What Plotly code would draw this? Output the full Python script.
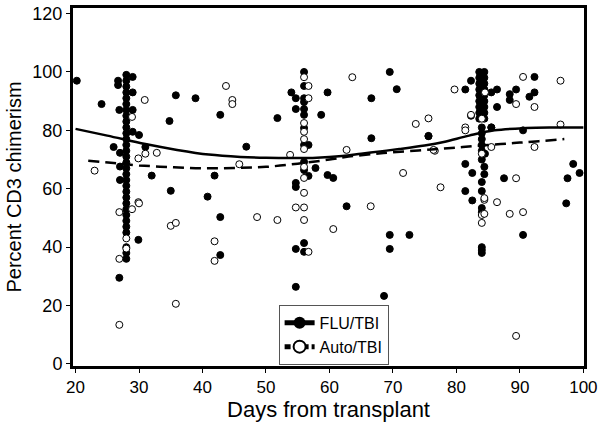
import plotly.graph_objects as go

# FLU/TBI (filled) points
flu_days = [28]*31 + [
    20.2, 24.1, 26.7, 26.7, 26.9, 29, 29, 29, 29, 30, 31, 26, 27, 27, 27, 32,
    35.8, 38.9, 42.8, 34.8, 46.9, 41.9, 35, 40.8, 42.8, 29.9, 42.8, 26.9,
    56, 56, 54, 54.7, 56, 56, 54.7, 56, 56, 51.8, 58.7, 59.7, 56, 56, 56.7, 56, 56,
    57.8, 56.7, 54.7, 54.7, 59.7, 60.6, 62.7, 56, 54.7, 56, 54.7, 56,
    66.6, 66.6, 69.5, 70.6, 75.6, 69.5, 72.6, 69.5, 68.6,
] + [83.6]*9 + [84.4]*9 + [
    84, 84, 84, 84, 84, 84, 84.4, 82.5, 84.4, 84, 84, 81.4, 82.5, 84, 84, 84, 84, 84,
    81.4, 82.3, 85.5, 86.4, 88.4, 88.4, 89.4, 92.3, 92.3, 86.4, 90.5, 75.6, 85.5,
    81.4, 98.4, 99.4, 87.5, 97.5, 97.3, 90.5, 91.5, 82.3, 84.5, 85.5,
]
flu_vals = [99, 97, 95, 93, 91, 89, 87, 85, 83, 81, 79, 77, 75, 73, 71, 69, 67, 65,
            63, 61, 59, 57, 55, 53, 51, 49, 47, 45, 40, 38, 36] + [
    97, 89, 97, 95.5, 87, 98.3, 93, 87, 79.5, 78.4, 74.3, 74.3, 72.3, 67.6, 63, 64.5,
    92, 91, 85.3, 83.2, 74.4, 64.5, 59.3, 57.3, 50.3, 42.5, 37.3, 29.5,
    100, 95.2, 93, 91, 91, 89.7, 87.3, 87.3, 85.3, 84.2, 85.3, 93, 80.8, 75, 75, 69.2, 66.4,
    67.1, 64.4, 62, 60.6, 64.7, 63.7, 54, 41.4, 39.4, 38.4, 26.4, 16.4,
    91, 77.3, 100, 94.1, 78.1, 44.2, 44.2, 39.4, 23.3,
] + [100, 98, 96, 94, 92, 90, 88, 86, 84] + [100, 98, 96, 94, 92, 90, 88, 86, 84] + [
    81, 79, 77, 75, 73, 70, 67.5, 65.4, 65, 62.3, 59.2, 59.2, 56, 53.4, 52, 40, 39, 38,
    94, 97, 93, 94, 92.4, 90.4, 94, 98.3, 93, 88, 80, 78, 81,
    68.5, 68.5, 65.4, 63.6, 63.6, 55, 44.2, 91.5, 85, 72, 81,
]

# Auto/TBI (open) points
auto_days = [
    23, 28.9, 30.9, 43.7, 44.7, 44.7, 31, 32.8, 29.9, 45.8, 29.9, 28.9, 26.9, 48.6,
    35, 35.8, 41.9, 28, 28, 26.9, 41.9, 35.8, 26.9, 30,
    56, 56.7, 56.7, 56, 56, 56, 56, 53.8, 62.7, 56, 56, 56, 63.6, 73.6, 75.6, 76.6,
    71.6, 66.5, 54.7, 56, 51.8, 56, 60.6, 56.7,
    79.7, 89.4, 90.5, 92.3, 96.4, 82.3, 81.4, 81.4, 96.4, 85.5, 76.4, 92.3, 84, 89.4,
    77.5, 84.4, 86.4, 84, 84.4, 84, 88.4, 90.5, 89.4, 84.5, 84, 84.4,
]
auto_vals = [
    66.2, 84.6, 90.4, 95.2, 90.4, 89, 72, 72.3, 70.4, 68.4, 55.4, 53, 52, 50.3,
    47.3, 48.3, 42, 43, 39.5, 36, 35.3, 20.6, 13.4, 55,
    98.2, 95.2, 91, 82.5, 79.5, 77, 73.6, 71.6, 73.3, 67.5, 63.7, 58.6, 98.2, 82.2, 84.1, 73,
    65.4, 54, 53.6, 53.6, 49.3, 49.3, 46.2, 38.4,
    94, 89, 98.3, 88, 97, 85.3, 81, 80, 82, 74.3, 73.3, 74.3, 72, 63.6,
    60.5, 56.2, 55.4, 51, 51.4, 48.3, 51.4, 52, 9.6, 93, 84, 56.8,
]

# Fitted trend curves
flu_fit_days = [20, 25, 31, 36, 41, 46, 50, 54, 58, 62, 65, 68, 71, 75, 78, 82, 86, 91, 95, 100]
flu_fit_vals = [80.5, 78.2, 75.3, 73.3, 71.7, 70.9, 70.6, 70.5, 70.6, 71.2, 72.0, 72.8, 73.6, 74.8,
                76.0, 78.2, 80.0, 80.8, 81.0, 81.0]
auto_fit_days = [22, 26, 30, 35, 40, 45, 50, 55, 60, 63, 67, 70, 74, 77, 80, 83, 87, 90, 93, 97]
auto_fit_vals = [69.6, 68.8, 68.0, 67.4, 67.0, 67.1, 67.5, 68.6, 70.0, 71.0, 71.9, 72.5, 73.1, 73.6,
                 74.1, 74.7, 75.3, 75.8, 76.3, 77.0]

FONT = "Arial, Liberation Sans, sans-serif"

fig = go.Figure()
fig.add_trace(go.Scatter(x=flu_days, y=flu_vals, mode="markers", showlegend=False,
                         marker=dict(symbol="circle", size=7, color="black",
                                     line=dict(color="black", width=1))))
fig.add_trace(go.Scatter(x=auto_days, y=auto_vals, mode="markers", showlegend=False,
                         marker=dict(symbol="circle", size=7, color="white",
                                     line=dict(color="black", width=1))))
fig.add_trace(go.Scatter(x=flu_fit_days, y=flu_fit_vals, mode="lines", showlegend=False,
                         line=dict(color="black", width=2.5, shape="spline")))
fig.add_trace(go.Scatter(x=auto_fit_days, y=auto_fit_vals, mode="lines", showlegend=False,
                         line=dict(color="black", width=2.5, dash="11px,6px", shape="spline")))
# legend entries
fig.add_trace(go.Scatter(x=[None], y=[None], mode="lines+markers", name="FLU/TBI",
                         line=dict(color="black", width=2.5),
                         marker=dict(size=7, color="black")))
fig.add_trace(go.Scatter(x=[None], y=[None], mode="lines+markers", name="Auto/TBI",
                         line=dict(color="black", width=2.5, dash="6px,3px"),
                         marker=dict(size=7, color="white", line=dict(color="black", width=1))))

fig.update_layout(
    width=600, height=436,
    margin=dict(l=73, r=16, t=8, b=70),
    paper_bgcolor="white", plot_bgcolor="white",
    font=dict(family=FONT, color="black", size=18),
    legend=dict(x=0.51, y=0.003, xanchor="center", yanchor="bottom",
                bordercolor="#555", borderwidth=1, bgcolor="white",
                font=dict(size=16), tracegroupgap=0, itemsizing="constant",
                itemwidth=30),
)
fig.update_xaxes(range=[19.6, 100.1], tickmode="array",
                 tickvals=[20, 30, 40, 50, 60, 70, 80, 90, 100],
                 ticks="outside", ticklen=4, tickwidth=1, tickcolor="black",
                 showline=True, linecolor="black", linewidth=3, mirror=True,
                 showgrid=False, zeroline=False, automargin=False,
                 ticklabeloverflow="allow",
                 tickfont=dict(size=17),
                 title=dict(text="Days from transplant", font=dict(size=22), standoff=5))
fig.update_yaxes(range=[-0.7, 121.9], tickmode="array",
                 tickvals=[0, 20, 40, 60, 80, 100, 120],
                 ticks="outside", ticklen=4, tickwidth=1, tickcolor="black",
                 showline=True, linecolor="black", linewidth=3, mirror=True,
                 showgrid=False, zeroline=False, automargin=False,
                 tickfont=dict(size=18),
                 title=dict(text="Percent CD3 chimerism", font=dict(size=20), standoff=6))

fig.write_html("out.html", config={"displayModeBar": False},
               post_script="document.body.style.margin='0';")
